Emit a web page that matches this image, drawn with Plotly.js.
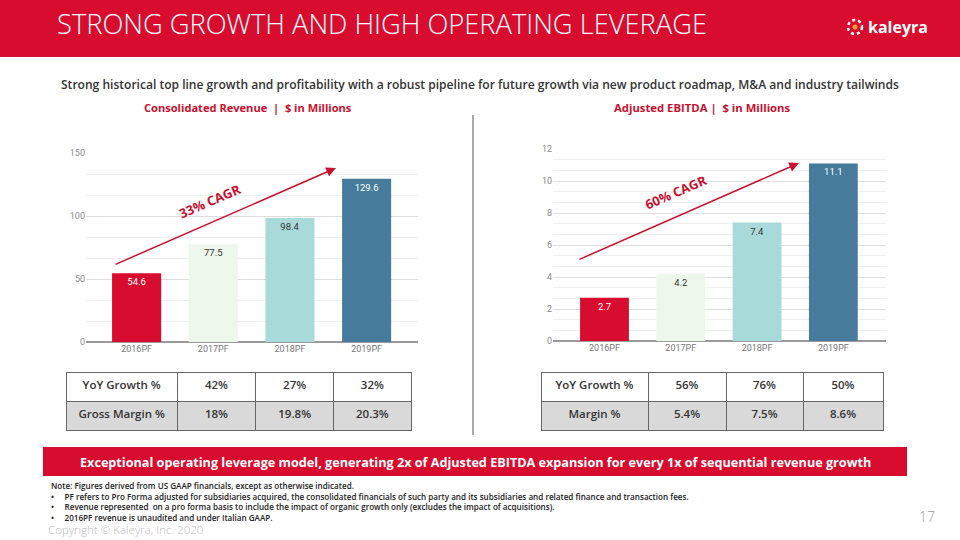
<!DOCTYPE html>
<html>
<head>
<meta charset="utf-8">
<script src="https://cdn.plot.ly/plotly-3.0.1.min.js"></script>
<style>html,body{margin:0;padding:0;background:#fff;}#chart{width:960px;height:540px;}</style>
</head>
<body>
<div id="chart"></div>
<script>
// ---- data ----
const years = ['2016PF', '2017PF', '2018PF', '2019PF'];
const revenue = [54.6, 77.5, 98.4, 129.6];
const ebitda = [2.7, 4.2, 7.4, 11.1];
const barColors = ['#D70C2E', '#EEF7EC', '#A9DADA', '#467B9C'];
const labelColors = ['#ffffff', '#333333', '#333333', '#ffffff'];
const revTableRow1 = ['YoY Growth %', '42%', '27%', '32%'];
const revTableRow2 = ['Gross Margin %', '18%', '19.8%', '20.3%'];
const ebTableRow1 = ['YoY Growth %', '56%', '76%', '50%'];
const ebTableRow2 = ['Margin %', '5.4%', '7.5%', '8.6%'];
const revCagr = '33% CAGR';
const ebCagr = '60% CAGR';
const revTickVals = [0, 50, 100, 150];
const ebTickVals = [0, 2, 4, 6, 8, 10, 12];
const noteHead = 'Note: Figures derived from US GAAP financials, except as otherwise indicated.';
const noteBullets = [
  'PF refers to Pro Forma adjusted for subsidiaries acquired, the consolidated financials of such party and its subsidiaries and related finance and transaction fees.',
  'Revenue represented  on a pro forma basis to include the impact of organic growth only (excludes the impact of acquisitions).',
  '2016PF revenue is unaudited and under Italian GAAP.'
];

// ---- helpers (pixel -> paper) ----
const W = 960, H = 540;
const px = x => x / W;
const py = y => 1 - y / H;
const RED = '#D70C2E';
const FONT = 'Open Sans, sans-serif';
const NB = '\u00a0';

const barTrace = (vals, xa, ya) => ({
  type: 'bar', x: years, y: vals, xaxis: xa, yaxis: ya,
  width: 0.64,
  marker: {color: barColors, line: {width: 0}},
  text: vals.map(v => v.toFixed(1)),
  textposition: 'inside', insidetextanchor: 'end', textangle: 0,
  constraintext: 'none',
  textfont: {family: 'Roboto, sans-serif', size: 9.5, color: labelColors},
  hoverinfo: 'skip', showlegend: false, cliponaxis: false
});

const tableTrace = (r1, r2, xd, yd, cw) => ({
  type: 'table',
  domain: {x: xd, y: yd},
  columnwidth: cw,
  header: {
    values: r1.map(v => [v]),
    height: 29,
    fill: {color: '#ffffff'},
    line: {color: '#666666', width: 1},
    align: 'center',
    font: {family: FONT, size: 11.5, color: '#333333', weight: 600}
  },
  cells: {
    values: r2.map(v => [v]),
    height: 29,
    fill: {color: '#D9D9D9'},
    line: {color: '#666666', width: 1},
    align: 'center',
    font: {family: FONT, size: 11.5, color: '#333333', weight: 600}
  }
});

const data = [
  barTrace(revenue, 'x', 'y'),
  barTrace(ebitda, 'x2', 'y2'),
  tableTrace(revTableRow1, revTableRow2, [px(66), px(411)], [py(434), py(372)], [111, 78, 78, 77]),
  tableTrace(ebTableRow1, ebTableRow2, [px(541), px(884)], [py(434), py(372)], [107, 78, 77, 80])
];

const xaxisBase = {
  type: 'category', showgrid: false, zeroline: false, showline: false, ticks: '',
  tickfont: {family: 'Roboto, sans-serif', size: 9, color: '#777777'},
  fixedrange: true
};
const yaxisBase = {
  showgrid: true, gridcolor: '#dedede', gridwidth: 1,
  zeroline: true, zerolinecolor: '#9a9a9a', zerolinewidth: 2,
  showline: false, ticks: '',
  tickfont: {family: 'Roboto, sans-serif', size: 9, color: '#8a8a8a'},
  fixedrange: true
};

const notesText = [noteHead].concat(noteBullets.map(b => '•' + NB.repeat(5) + b)).join('<br>');

const layout = {
  width: W, height: H,
  margin: {l: 0, r: 0, t: 0, b: 0},
  paper_bgcolor: '#ffffff', plot_bgcolor: 'rgba(0,0,0,0)',
  showlegend: false,
  font: {family: FONT},
  xaxis: Object.assign({}, xaxisBase, {domain: [px(86), px(418)], range: [-0.66, 3.67], anchor: 'y'}),
  yaxis: Object.assign({}, yaxisBase, {domain: [py(342), py(153)], range: [0, 150], tickvals: revTickVals,
    minor: {dtick: 50 / 3, showgrid: true, gridcolor: '#efefef', gridwidth: 1}, anchor: 'x'}),
  xaxis2: Object.assign({}, xaxisBase, {domain: [px(553), px(886)], range: [-0.675, 3.69], anchor: 'y2'}),
  yaxis2: Object.assign({}, yaxisBase, {domain: [py(341), py(149)], range: [0, 12], tickvals: ebTickVals,
    minor: {dtick: 2 / 3, showgrid: true, gridcolor: '#efefef', gridwidth: 1}, anchor: 'x2'}),
  shapes: [
    {type: 'rect', xref: 'paper', yref: 'paper', x0: 0, x1: 1, y0: py(57), y1: 1, fillcolor: RED, line: {width: 0}, layer: 'below'},
    {type: 'circle', xref: 'paper', yref: 'paper', x0: px(848), x1: px(862), y0: py(34), y1: py(20), line: {color: '#ffffff', width: 2.5, dash: 'dot'}},
    {type: 'circle', xref: 'paper', yref: 'paper', x0: px(852.5), x1: px(857.5), y0: py(29.5), y1: py(24.5), fillcolor: '#F6A02D', line: {width: 0}},
    {type: 'line', xref: 'paper', yref: 'paper', x0: px(473), x1: px(473), y0: py(115), y1: py(435), line: {color: '#555555', width: 1}},
    {type: 'rect', xref: 'paper', yref: 'paper', x0: px(43), x1: px(907), y0: py(476), y1: py(447), fillcolor: RED, line: {width: 0}}
  ],
  annotations: [
    {xref: 'paper', yref: 'paper', x: px(55), y: py(24), xanchor: 'left', yanchor: 'middle', showarrow: false,
      text: 'STRONG GROWTH AND HIGH OPERATING LEVERAGE', font: {family: FONT, size: 27.3, color: '#ffffff', weight: 300}},
    {xref: 'paper', yref: 'paper', x: px(866), y: py(27), xanchor: 'left', yanchor: 'middle', showarrow: false,
      text: '<b>kaleyra</b>', font: {family: FONT, size: 16, color: '#ffffff'}},
    {xref: 'paper', yref: 'paper', x: px(480), y: py(84), xanchor: 'center', yanchor: 'middle', showarrow: false,
      text: 'Strong historical top line growth and profitability with a robust pipeline for future growth via new product roadmap, M&A and industry tailwinds',
      font: {family: FONT, size: 12.05, color: '#333333', weight: 600}},
    {xref: 'paper', yref: 'paper', x: px(248), y: py(108), xanchor: 'center', yanchor: 'middle', showarrow: false,
      text: 'Consolidated Revenue  |  $ in Millions', font: {family: FONT, size: 11.1, color: '#C8102E', weight: 700}},
    {xref: 'paper', yref: 'paper', x: px(702), y: py(108), xanchor: 'center', yanchor: 'middle', showarrow: false,
      text: 'Adjusted EBITDA |  $ in Millions', font: {family: FONT, size: 11.3, color: '#C8102E', weight: 700}},
    {xref: 'paper', yref: 'paper', x: px(336), y: py(168), ax: 114 - 336, ay: 265 - 168, axref: 'pixel', ayref: 'pixel',
      showarrow: true, arrowhead: 2, arrowsize: 1.3, arrowwidth: 1.5, arrowcolor: '#C8102E', text: ''},
    {xref: 'paper', yref: 'paper', x: px(799), y: py(163), ax: 578 - 799, ay: 260 - 163, axref: 'pixel', ayref: 'pixel',
      showarrow: true, arrowhead: 2, arrowsize: 1.3, arrowwidth: 1.5, arrowcolor: '#C8102E', text: ''},
    {xref: 'paper', yref: 'paper', x: px(210), y: py(201), xanchor: 'center', yanchor: 'middle', showarrow: false, textangle: -23.6,
      text: revCagr, font: {family: FONT, size: 13, color: '#C8102E', weight: 700}},
    {xref: 'paper', yref: 'paper', x: px(676), y: py(192), xanchor: 'center', yanchor: 'middle', showarrow: false, textangle: -23.6,
      text: ebCagr, font: {family: FONT, size: 13, color: '#C8102E', weight: 700}},
    {xref: 'paper', yref: 'paper', x: px(475), y: py(461.5), xanchor: 'center', yanchor: 'middle', showarrow: false,
      text: 'Exceptional operating leverage model, generating 2x of Adjusted EBITDA expansion for every 1x of sequential revenue growth',
      font: {family: FONT, size: 12.65, color: '#ffffff', weight: 700}},
    {xref: 'paper', yref: 'paper', x: px(50), y: py(478.5), xanchor: 'left', yanchor: 'top', align: 'left', showarrow: false,
      borderpad: 0, text: notesText, font: {family: FONT, size: 8.1, color: '#222222', weight: 600}},
    {xref: 'paper', yref: 'paper', x: px(937), y: py(516), xanchor: 'right', yanchor: 'middle', showarrow: false,
      text: '17', font: {family: FONT, size: 14, color: '#9a9a9a', weight: 300}},
    {xref: 'paper', yref: 'paper', x: px(46), y: py(529), xanchor: 'left', yanchor: 'middle', showarrow: false,
      text: 'Copyright © Kaleyra, Inc. 2020', font: {family: FONT, size: 11.5, color: '#bbbbbb', weight: 300}}
  ]
};

Plotly.newPlot('chart', data, layout, {staticPlot: true, displayModeBar: false});
</script>
</body>
</html>
